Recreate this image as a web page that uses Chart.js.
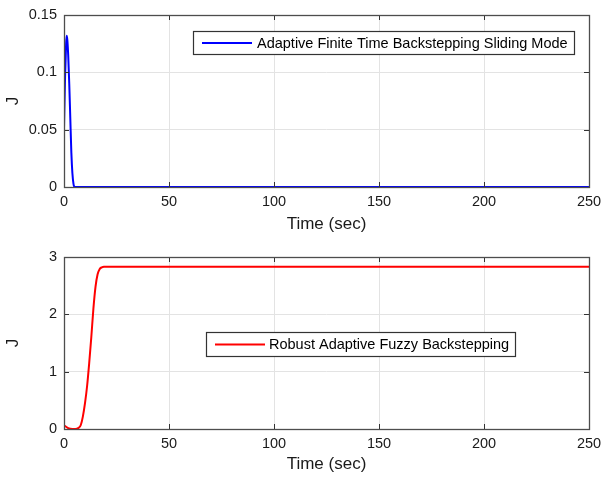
<!DOCTYPE html>
<html>
<head>
<meta charset="utf-8">
<script src="https://cdn.jsdelivr.net/npm/chart.js@4.4.0/dist/chart.umd.min.js"></script>
<style>
  html,body{margin:0;padding:0;background:#fff;}
  #wrap{position:relative;width:603px;height:480px;}
  .pane{position:absolute;left:0;width:603px;height:240px;}
</style>
</head>
<body>
<div id="wrap">
  <div class="pane" style="top:0"><canvas id="c1" width="603" height="240"></canvas></div>
  <div class="pane" style="top:240px"><canvas id="c2" width="603" height="240"></canvas></div>
</div>
<script>
// ---- data ----
const timeTop = [0, 0.5, 1.0, 1.3, 1.6, 2.0, 2.5, 3.0, 3.5, 4.0, 4.5, 5.0, 10, 50, 100, 150, 200, 250];
const jTop    = [0.051, 0.095, 0.125, 0.132, 0.128, 0.115, 0.09, 0.06, 0.03, 0.012, 0.003, 0, 0, 0, 0, 0, 0, 0];
const timeBottom = [0, 1, 2, 3, 4, 5, 6, 7, 8, 9, 10, 11, 12, 13, 14, 15, 16, 17, 18, 19, 20, 25, 50, 100, 150, 200, 250];
const jBottom    = [0.065, 0.04, 0.015, 0.003, 0.0, 0.0, 0.005, 0.02, 0.07, 0.22, 0.45, 0.75, 1.15, 1.6, 2.1, 2.48, 2.7, 2.79, 2.82, 2.83, 2.83, 2.83, 2.83, 2.83, 2.83, 2.83, 2.83];
const labelTop = 'Adaptive Finite Time Backstepping Sliding Mode';
const labelBottom = 'Robust Adaptive Fuzzy Backstepping';
const xTitle = 'Time (sec)';
const yTitle = 'J';
const xTicks = [0, 50, 100, 150, 200, 250];
const yTicksTop = [0, 0.05, 0.1, 0.15];
const yTicksBottom = [0, 1, 2, 3];

const FONT = '"Liberation Sans", Arial, Helvetica, sans-serif';
const TXT = '#1a1a1a';

const boxPlugin = {
  id: 'matlabBox',
  afterDraw(chart, args, opts) {
    const ctx = chart.ctx, a = chart.chartArea;
    const xs = chart.scales.x, ys = chart.scales.y;
    ctx.save();
    // inward ticks
    ctx.strokeStyle = '#333';
    ctx.lineWidth = 1;
    ctx.beginPath();
    xs.ticks.forEach(t => {
      const px = Math.round(xs.getPixelForValue(t.value)) + 0.5;
      ctx.moveTo(px, a.bottom); ctx.lineTo(px, a.bottom - 5);
      ctx.moveTo(px, a.top); ctx.lineTo(px, a.top + 5);
    });
    ys.ticks.forEach(t => {
      const py = Math.round(ys.getPixelForValue(t.value)) + 0.5;
      ctx.moveTo(a.left, py); ctx.lineTo(a.left + 5, py);
      ctx.moveTo(a.right, py); ctx.lineTo(a.right - 5, py);
    });
    ctx.stroke();
    // box
    ctx.strokeStyle = '#4d4d4d';
    ctx.lineWidth = 1.3;
    ctx.strokeRect(Math.round(a.left) + 0.5, Math.round(a.top) + 0.5, Math.round(a.right - a.left), Math.round(a.bottom - a.top));
    // legend
    const L = opts;
    ctx.fillStyle = '#fff';
    ctx.fillRect(L.x, L.y, L.w, L.h);
    ctx.strokeStyle = '#333';
    ctx.lineWidth = 1.2;
    ctx.strokeRect(L.x + 0.5, L.y + 0.5, L.w, L.h);
    ctx.strokeStyle = L.color;
    ctx.lineWidth = 2;
    ctx.beginPath();
    ctx.moveTo(L.x + L.lineStart, L.y + L.h / 2 + 0.5);
    ctx.lineTo(L.x + L.lineEnd, L.y + L.h / 2 + 0.5);
    ctx.stroke();
    ctx.fillStyle = '#000';
    ctx.font = '14.5px ' + FONT;
    ctx.textBaseline = 'middle';
    ctx.textAlign = 'left';
    ctx.fillText(L.text, L.x + L.textStart, L.y + L.h / 2 + 1);
    ctx.restore();
  }
};

function makeChart(id, times, vals, color, yMax, yTicks, legend, padTop, xHeight) {
  const pts = times.map((t, i) => ({x: t, y: vals[i]}));
  return new Chart(document.getElementById(id), {
    type: 'line',
    data: { datasets: [{ label: legend.text, data: pts, borderColor: color, borderWidth: 2,
      pointRadius: 0, fill: false, cubicInterpolationMode: 'monotone' }] },
    options: {
      responsive: false, animation: false,
      layout: { padding: { left: 0, right: 14, top: padTop, bottom: 0 } },
      plugins: { legend: { display: false }, tooltip: { enabled: false }, matlabBox: legend },
      scales: {
        x: {
          type: 'linear', min: 0, max: 250,
          afterBuildTicks: s => { s.ticks = xTicks.map(v => ({value: v})); },
          afterFit: s => { s.height = xHeight; s.paddingLeft = 0; s.paddingRight = 0; },
          grid: { color: '#e3e3e3', drawTicks: false, lineWidth: 1 },
          border: { display: false },
          ticks: { padding: 6, color: TXT, font: { family: FONT, size: 14.5 }, maxRotation: 0 },
          title: { display: true, text: xTitle, color: TXT, font: { family: FONT, size: 17 }, padding: { top: 0, bottom: 5 } }
        },
        y: {
          type: 'linear', min: 0, max: yMax,
          afterBuildTicks: s => { s.ticks = yTicks.map(v => ({value: v})); },
          afterFit: s => { s.width = 64; s.paddingTop = 0; s.paddingBottom = 0; },
          grid: { color: '#e3e3e3', drawTicks: false, lineWidth: 1 },
          border: { display: false },
          ticks: { padding: 7, color: TXT, font: { family: FONT, size: 14.5 },
            callback: v => String(+v.toFixed(2)) },
          title: { display: true, text: yTitle, color: TXT, font: { family: FONT, size: 17 }, padding: { top: 3, bottom: 0 } }
        }
      }
    },
    plugins: [boxPlugin]
  });
}

makeChart('c1', timeTop, jTop, '#0000ff', 0.15, yTicksTop,
  { x: 193, y: 31, w: 381, h: 23, color: '#0000ff', text: labelTop, lineStart: 9, lineEnd: 59, textStart: 64 }, 15, 53);
makeChart('c2', timeBottom, jBottom, '#ff0000', 3, yTicksBottom,
  { x: 206, y: 92, w: 309, h: 24, color: '#ff0000', text: labelBottom, lineStart: 9, lineEnd: 59, textStart: 63 }, 17, 51);
</script>
</body>
</html>
